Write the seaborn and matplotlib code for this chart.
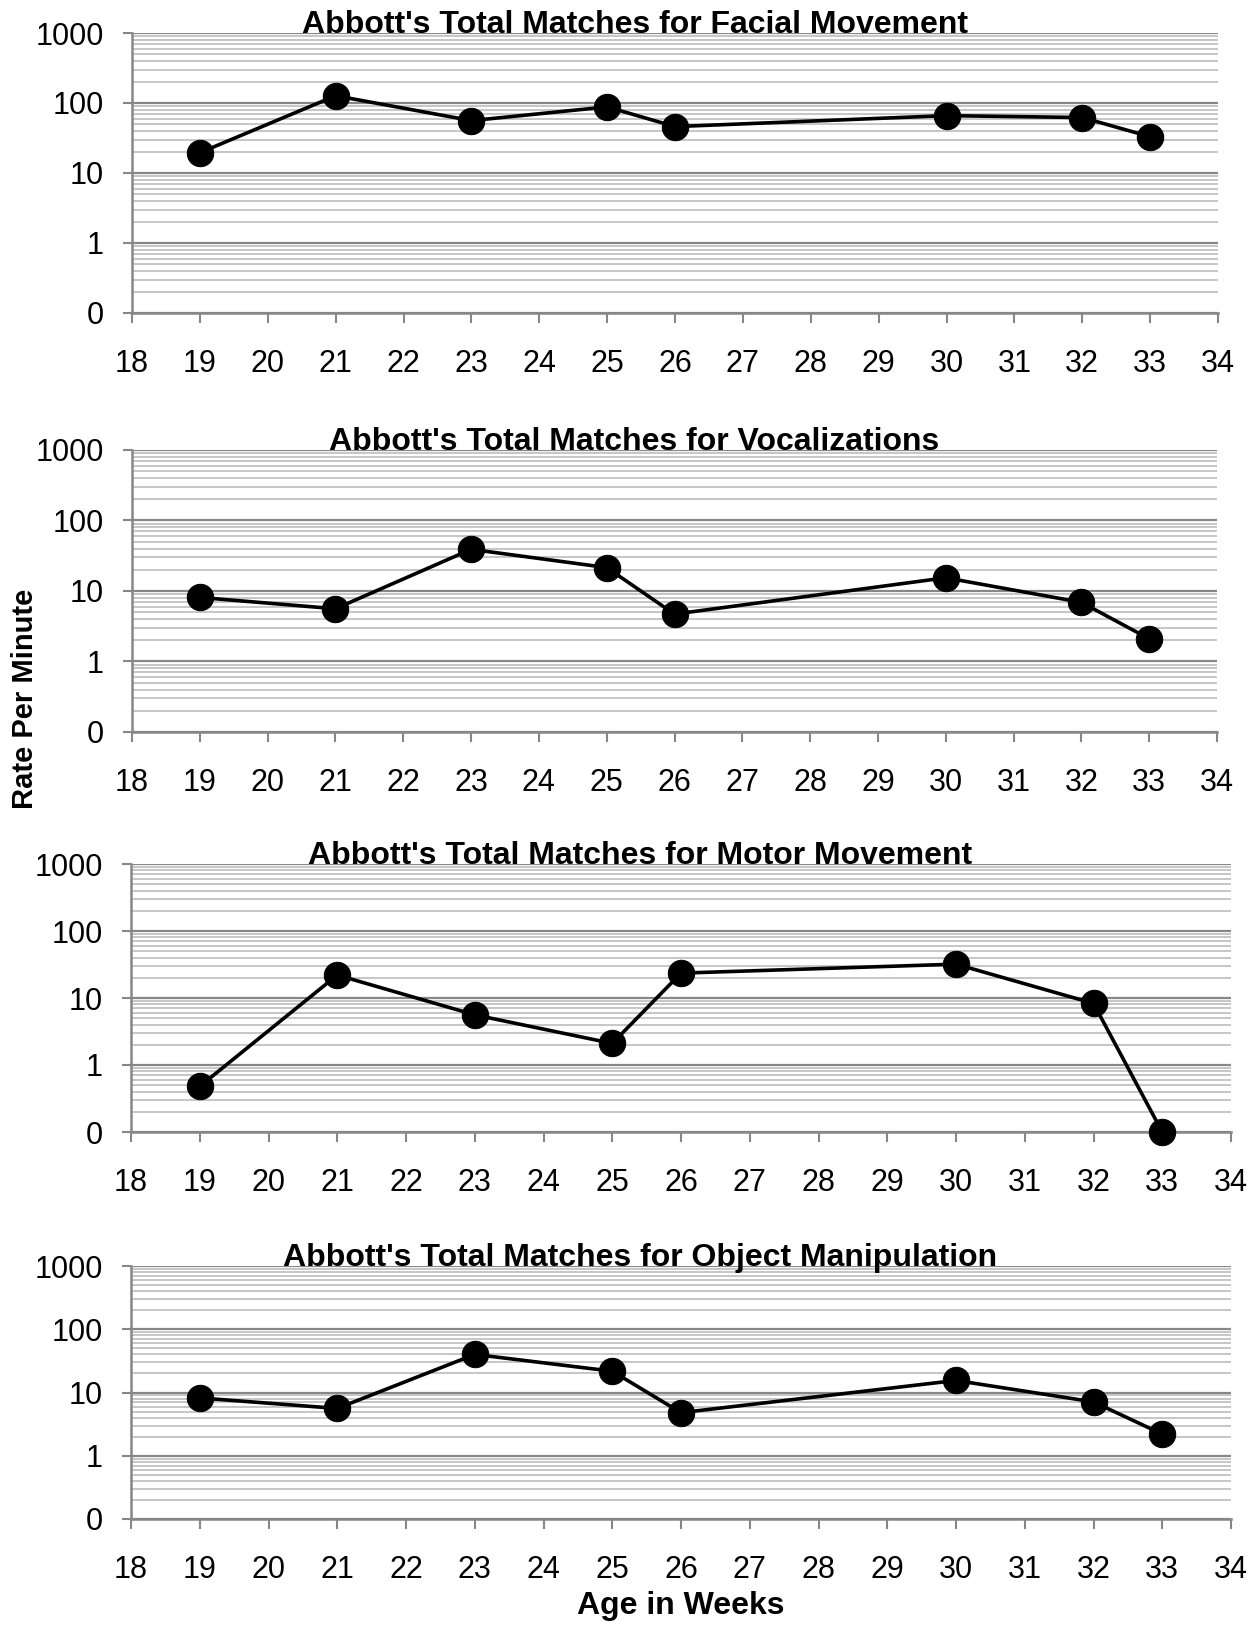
import numpy as np
import pandas as pd
import matplotlib
matplotlib.use("Agg")
import matplotlib.pyplot as plt
import seaborn as sns
from matplotlib.ticker import LogLocator, NullFormatter, FixedLocator, FixedFormatter

# ---------------- data ----------------
weeks = [19, 21, 23, 25, 26, 30, 32, 33]
facial = [19.5, 127, 56, 88, 46, 66, 62, 33]
vocalizations = [8.1, 5.6, 39, 21.5, 4.7, 15.4, 6.9, 2.1]
motor = [0.48, 22, 5.6, 2.1, 23.5, 32, 8.3, 0.1]
object_manip = [8.2, 5.6, 40, 21.7, 4.8, 15.5, 7.1, 2.2]

titles = [
    "Abbott's Total Matches for Facial Movement",
    "Abbott's Total Matches for Vocalizations",
    "Abbott's Total Matches for Motor Movement",
    "Abbott's Total Matches for Object Manipulation",
]
xticks = list(range(18, 35))
ytick_values = [0.1, 1, 10, 100, 1000]
ytick_labels = ["0", "1", "10", "100", "1000"]
ylabel = "Rate Per Minute"
xlabel = "Age in Weeks"

# ---------------- style ----------------
sns.set_theme(style="white")
plt.rcParams["font.family"] = ["Liberation Sans", "DejaVu Sans"]

W, H = 1254, 1627
fig = plt.figure(figsize=(W / 100, H / 100), dpi=100)
fig.patch.set_facecolor("white")

# pixel boxes (left, right, top, bottom)
boxes = [
    (132, 1218, 33, 313),
    (132, 1217, 450, 732),
    (131, 1231, 864, 1132),
    (131, 1231, 1266, 1519),
]
series = [facial, vocalizations, motor, object_manip]

major_c = "#878787"
minor_c = "#c2c2c2"

for title, vals, (l, r, t, b) in zip(titles, series, boxes):
    ax = fig.add_axes([l / W, 1 - b / H, (r - l) / W, (b - t) / H])
    df = pd.DataFrame({"week": weeks, "rate": vals})
    sns.lineplot(data=df, x="week", y="rate", ax=ax, color="black",
                 linewidth=2.6, marker="o", markersize=19,
                 markeredgecolor="black", markerfacecolor="black",
                 clip_on=False, zorder=5)
    ax.set_yscale("log")
    ax.set_ylim(0.1, 1000)
    ax.set_xlim(18, 34)
    ax.xaxis.set_major_locator(FixedLocator(xticks))
    ax.xaxis.set_major_formatter(FixedFormatter([str(v) for v in xticks]))
    ax.yaxis.set_major_locator(FixedLocator(ytick_values))
    ax.yaxis.set_major_formatter(FixedFormatter(ytick_labels))
    ax.yaxis.set_minor_locator(LogLocator(base=10, subs=np.arange(2, 10), numticks=20))
    ax.yaxis.set_minor_formatter(NullFormatter())
    ax.set_axisbelow(True)
    ax.grid(False)
    ax.yaxis.grid(True, which="major", color=major_c, linewidth=1.6)
    ax.yaxis.grid(True, which="minor", color=minor_c, linewidth=1.3)
    ax.tick_params(axis="y", which="minor", left=False, length=0)
    ax.tick_params(axis="x", which="major", bottom=True, direction="out",
                   length=7.5, width=1.5, color=major_c, labelsize=22,
                   pad=18.5, labelcolor="black")
    ax.tick_params(axis="y", which="major", left=True, direction="out",
                   length=6.5, width=1.5, color=major_c, labelsize=22,
                   pad=14, labelcolor="black")
    for s in ["top", "right"]:
        ax.spines[s].set_visible(False)
    for s in ["left", "bottom"]:
        ax.spines[s].set_color(major_c)
        ax.spines[s].set_linewidth(1.8)
    ax.set_xlabel("")
    ax.set_ylabel("")
    ax.text(0.463, 1.0, title, transform=ax.transAxes, ha="center",
            va="baseline", fontsize=23, fontweight="bold", color="black")

fig.text(25 / W, 1 - 699 / H, ylabel, rotation=90, ha="center", va="center",
         fontsize=21, fontweight="bold", color="black")
fig.text(681 / W, 1 - 1606 / H, xlabel, ha="center", va="center",
         fontsize=23, fontweight="bold", color="black")

fig.savefig("out.png", dpi=100)
